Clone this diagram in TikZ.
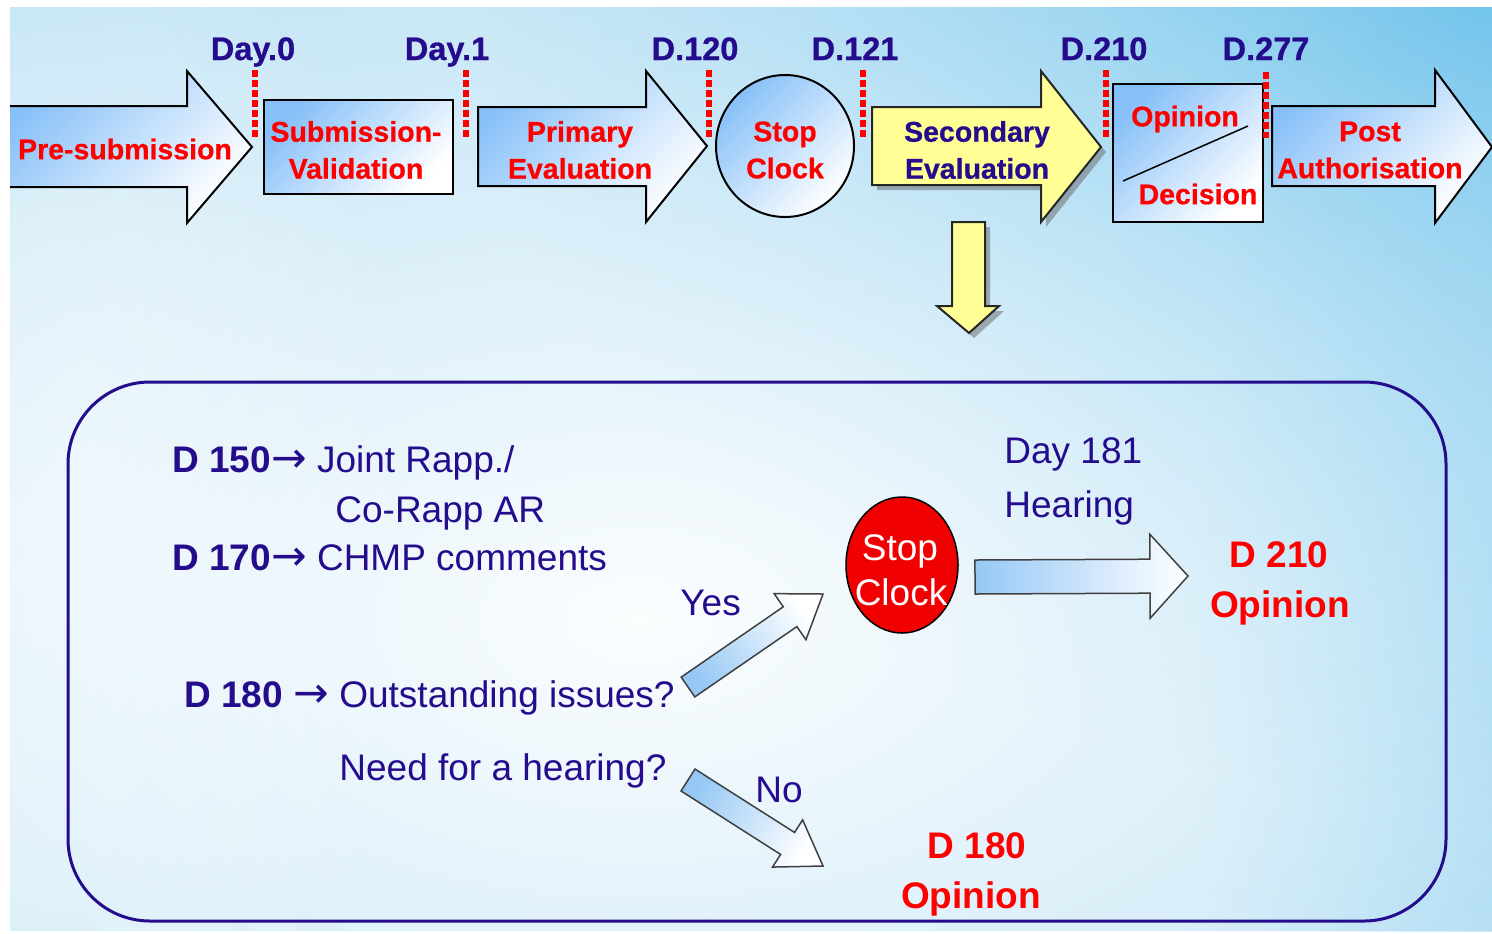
\documentclass[tikz,border=0pt]{standalone}
\usepackage{fontspec}
\setmainfont{Liberation Sans}
\newfontfamily\symfont{DejaVu Sans}
\newfontfamily\heavyfont[FakeBold=0.7]{Liberation Sans Bold}
\usetikzlibrary{calc,fadings,shapes.geometric}

\definecolor{navy}{RGB}{36,12,140}
\definecolor{redtxt}{RGB}{255,0,0}
\definecolor{stopred}{RGB}{240,0,0}
\definecolor{stepblue}{RGB}{135,192,248}
\definecolor{flowblue}{RGB}{150,200,245}
\definecolor{stepyellow}{RGB}{255,255,150}
\definecolor{skybase}{RGB}{186,225,245}
\definecolor{skydeep}{RGB}{112,196,236}

\tikzfading[name=softspot, inner color=transparent!0, outer color=transparent!100]

% block arrow: style, tail, tip, shaft half-width, head half-width, head length
\newcommand\blockarrow[6]{%
  \coordinate (babase) at ($(#3)!#6!(#2)$);
  \path[#1] ($(#2)!#4!90:(#3)$) -- ($(babase)!#4!-90:(#2)$)
    -- ($(babase)!#5!-90:(#2)$) -- (#3) -- ($(babase)!#5!90:(#2)$)
    -- ($(babase)!#4!90:(#2)$) -- ($(#2)!#4!-90:(#3)$) -- cycle;
}
\newcommand\rarrow{{\symfont\scalebox{1.15}{→}}}

\begin{document}
\begin{tikzpicture}[x=0.5pt,y=-0.5pt,line join=miter,
  stepshape/.style={draw=black, line width=1pt, top color=stepblue, bottom color=white, shading angle=45},
  yellowshape/.style={draw=black!85, line width=1pt, fill=stepyellow},
  shadowshape/.style={fill=black!60, opacity=0.5},
  daylabel/.style={font=\fontsize{16.25}{18}\heavyfont, text=navy, inner sep=0pt, anchor=base},
  steptext/.style={font=\fontsize{14.25}{18.5}\heavyfont, text=redtxt, align=center, inner sep=0pt},
  marker/.style={draw=redtxt, line width=2.75pt, dash pattern=on 3.5pt off 1.5pt},
  lowtext/.style={font=\fontsize{18.5}{22}\selectfont, text=navy, inner sep=0pt, anchor=base west},
  redbig/.style={font=\fontsize{18.5}{22}\selectfont\bfseries, text=redtxt, inner sep=0pt, anchor=base},
  whitetext/.style={font=\fontsize{18.5}{22}\selectfont, text=white, inner sep=0pt, anchor=base},
  flowarrow/.style={draw=black!75, line width=0.75pt}
]
\path[use as bounding box, fill=white] (0,0) rectangle (1492,933);

\begin{scope}
\clip (10,7) rectangle (1492,931);
% sky background
\fill[skybase] (10,7) rectangle (1492,931);
\fill[skydeep, path fading=softspot] (1492,0) ellipse [x radius=1000, y radius=800];
\fill[skydeep, path fading=softspot, opacity=0.6] (1500,650) ellipse [x radius=300, y radius=900];
\fill[white, path fading=softspot, opacity=0.95] (640,620) ellipse [x radius=1400, y radius=800];
\fill[white, path fading=softspot, opacity=0.5] (60,520) ellipse [x radius=360, y radius=700];

% ---- top row of steps ----
\path[stepshape] (4,106) -- (187,106) -- (187,71) -- (252,147) -- (187,223) -- (187,187) -- (4,187) -- cycle;
\node[steptext] (presub) at (125,149) {Pre-submission};

\node[stepshape, steptext, minimum width=94.5pt, minimum height=47pt] (subval) at (358.5,147) {};
\node[steptext] (subvaltext) at (356,150) {Submission-\\Validation};

\path[stepshape] (478,107) -- (646,107) -- (646,71) -- (707,146) -- (646,222) -- (646,186) -- (478,186) -- cycle;
\node[steptext] (primary) at (580,150) {Primary\\Evaluation};

\node[stepshape, ellipse, minimum width=69pt, minimum height=71pt, inner sep=0pt] (stop1) at (785,146) {};
\node[steptext] (stop1text) at (785,150) {Stop\\Clock};

\path[shadowshape] (877,112) -- (1046,112) -- (1046,76) -- (1106,152) -- (1046,227) -- (1046,190) -- (877,190) -- cycle;
\path[yellowshape] (872,107) -- (1041,107) -- (1041,71) -- (1101,147) -- (1041,222) -- (1041,185) -- (872,185) -- cycle;
\node[steptext, text=navy] (secondary) at (977,150) {Secondary\\Evaluation};

\node[stepshape, minimum width=75pt, minimum height=69pt, inner sep=0pt] (opbox) at (1188,153) {};
\draw[line width=0.75pt] (1123,181) -- (1248,126);
\node[steptext] (optext) at (1185,119) {Opinion};
\node[steptext] (dectext) at (1198,194) {Decision};

\path[stepshape] (1272,106) -- (1435,106) -- (1435,70) -- (1492,147) -- (1435,223) -- (1435,186) -- (1272,186) -- cycle;
\node[steptext] (post) at (1370,150) {Post\\Authorisation};

% day labels and markers
\node[daylabel] (day0) at (253,60) {Day.0};
\node[daylabel] (day1) at (447,60) {Day.1};
\node[daylabel] (d120) at (695,60) {D.120};
\node[daylabel] (d121) at (855,60) {D.121};
\node[daylabel] (d210t) at (1104,60) {D.210};
\node[daylabel] (d277) at (1266,60) {D.277};
\draw[marker] (255,70) -- (255,137);
\draw[marker] (466,70) -- (466,137);
\draw[marker] (709,70) -- (709,137);
\draw[marker] (863,70) -- (863,137);
\draw[marker] (1106,70) -- (1106,137);
\draw[marker] (1266,72) -- (1266,138);

% down arrow into the detail panel
\path[shadowshape] (957,227) -- (990,227) -- (990,311) -- (1004,311) -- (974,338) -- (942,311) -- (957,311) -- cycle;
\path[yellowshape] (952,222) -- (985,222) -- (985,306) -- (999,306) -- (969,333) -- (937,306) -- (952,306) -- cycle;

% ---- detail panel ----
\node[draw=navy, line width=1.5pt, rounded corners=41pt, minimum width=689pt, minimum height=269.5pt] (panel) at (757,651.5) {};

\node[lowtext] (d150) at (172,472) {\textbf{D 150}\rarrow\ Joint Rapp./};
\node[lowtext] (corapp) at (335,522) {Co-Rapp AR};
\node[lowtext] (d170) at (172,570) {\textbf{D 170}\rarrow\ CHMP comments};
\node[lowtext] (d180) at (184,707) {\textbf{D 180} \rarrow\ Outstanding issues?};
\node[lowtext] (hearq) at (339,780) {Need for a hearing?};
\node[lowtext] (yes) at (680,615) {Yes};
\node[lowtext] (no) at (755,802) {No};
\node[lowtext] (day181) at (1004,463) {Day 181};
\node[lowtext] (hearing) at (1004,517) {Hearing};

\node[draw=black, line width=0.75pt, fill=stopred, ellipse, minimum width=56pt, minimum height=68pt, inner sep=0pt] (stop2) at (902,565) {};
\node[whitetext] (stop2a) at (900,560) {Stop};
\node[whitetext] (stop2b) at (901,605) {Clock};

\node[redbig] (d210) at (1279,567) {D 210};
\node[redbig] (op210) at (1280,617) {Opinion};
\node[redbig] (d180o) at (977,858) {D 180};
\node[redbig] (op180) at (971,908) {Opinion};

% flow arrows
\coordinate (yesTail) at (688,687);
\coordinate (yesTip) at (823,594);
\coordinate (noTail) at (688,780);
\coordinate (noTip) at (823,866);
\coordinate (hearTail) at (975,577);
\coordinate (hearTip) at (1188,576);
\blockarrow{flowarrow, top color=white, bottom color=flowblue, shading angle=-54}{yesTail}{yesTip}{6pt}{14pt}{20pt}
\blockarrow{flowarrow, top color=white, bottom color=flowblue, shading angle=-122}{noTail}{noTip}{6.5pt}{14pt}{21pt}
\blockarrow{flowarrow, left color=flowblue, right color=white}{hearTail}{hearTip}{8.5pt}{21pt}{19pt}
\end{scope}
\end{tikzpicture}
\end{document}
